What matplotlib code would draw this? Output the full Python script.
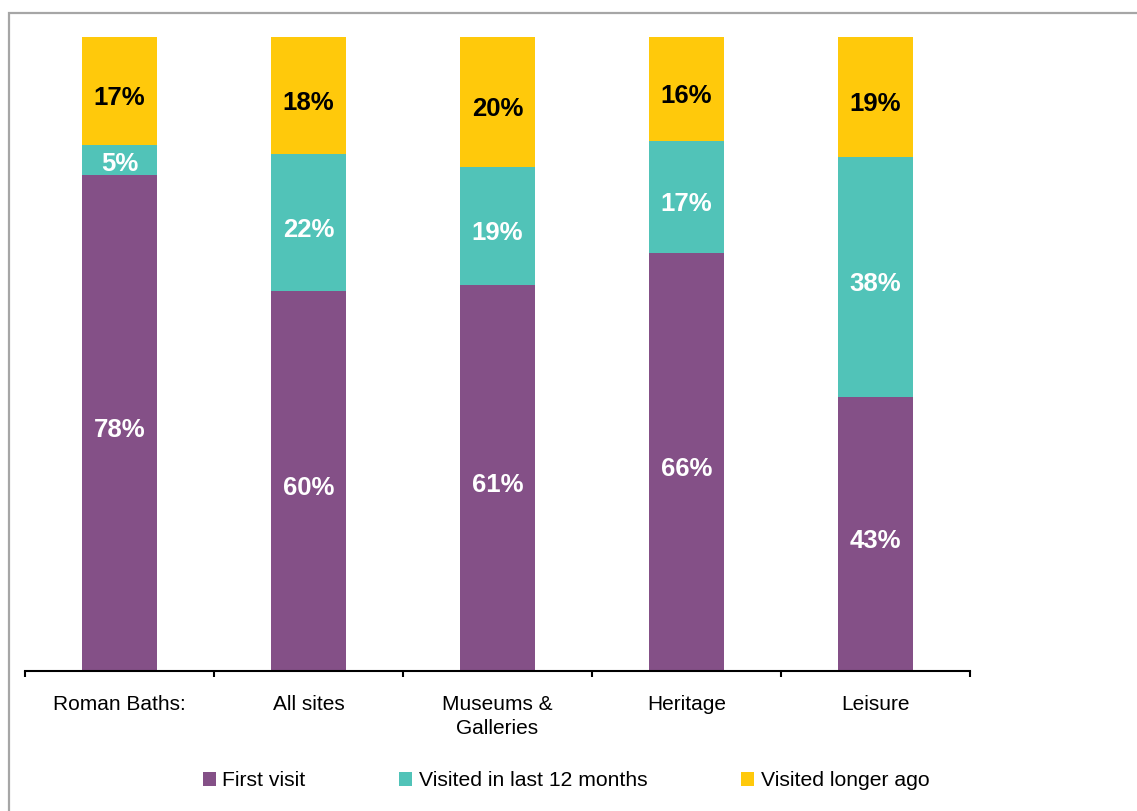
import matplotlib
matplotlib.use("Agg")
import matplotlib.pyplot as plt
from matplotlib.patches import Rectangle
import numpy as np

categories = ["Roman Baths:", "All sites", "Museums &\nGalleries", "Heritage", "Leisure"]
# segment shares (%)
first_visit = [78.2, 59.9, 60.9, 65.9, 43.2]
last_12_months = [4.7, 21.6, 18.6, 17.7, 37.9]
longer_ago = [17.1, 18.5, 20.5, 16.4, 18.9]
# printed data labels
first_visit_labels = ["78%", "60%", "61%", "66%", "43%"]
last_12_months_labels = ["5%", "22%", "19%", "17%", "38%"]
longer_ago_labels = ["17%", "18%", "20%", "16%", "19%"]
series_names = ["First visit", "Visited in last 12 months", "Visited longer ago"]
colors = ["#845087", "#51C3B8", "#FFC90B"]
label_colors = ["white", "white", "black"]

plt.rcParams['font.family'] = ['Liberation Sans', 'DejaVu Sans']

W, H = 1137, 811
fig = plt.figure(figsize=(W / 100, H / 100), dpi=100)

# outer gray frame (cropped at right/bottom)
fig.patches.append(Rectangle((9 / W, -0.1), 1.2, (H - 13) / H + 0.1,
                             transform=fig.transFigure, fill=False,
                             edgecolor="#A6A6A6", linewidth=1.6))

ax = fig.add_axes([25 / W, (H - 671) / H, (970 - 25) / W, (671 - 37) / H])

series = [first_visit, last_12_months, longer_ago]
labels = [first_visit_labels, last_12_months_labels, longer_ago_labels]
x = np.arange(len(categories))
bottom = np.zeros(len(categories))
for vals, labs, name, col, lc in zip(series, labels, series_names, colors, label_colors):
    h = np.array(vals)
    ax.bar(x, h, width=0.4, bottom=bottom, color=col, label=name, zorder=2)
    for xi, bi, hi, lab in zip(x, bottom, h, labs):
        dy = -5.0 if hi > 8 else -2.5
        ax.annotate(lab, (xi, bi + hi / 2), xytext=(0, dy), textcoords="offset points",
                    ha="center", va="center", color=lc, fontsize=18.5, fontweight="bold")
    bottom = bottom + h

ax.set_xlim(-0.5, len(categories) - 0.5)
ax.set_ylim(0, 100)
for s in ["top", "right", "left"]:
    ax.spines[s].set_visible(False)
ax.spines["bottom"].set_linewidth(1.5)
ax.spines["bottom"].set_color("black")
ax.set_yticks([])
ax.set_xticks(x)
ax.set_xticklabels(categories, fontsize=15, linespacing=1.3)
ax.tick_params(axis="x", which="major", length=0, pad=17.5)
ax.set_xticks(np.arange(-0.5, len(categories), 1.0), minor=True)
ax.tick_params(axis="x", which="minor", length=4, width=1.5, direction="out")

leg = fig.legend(loc="center", bbox_to_anchor=(566 / W, (H - 781) / H), ncol=3,
                 frameon=False, fontsize=15.2, handlelength=0.62, handleheight=0.62,
                 handletextpad=0.3, columnspacing=4.45, borderpad=0)

fig.savefig("out.png", dpi=100)
